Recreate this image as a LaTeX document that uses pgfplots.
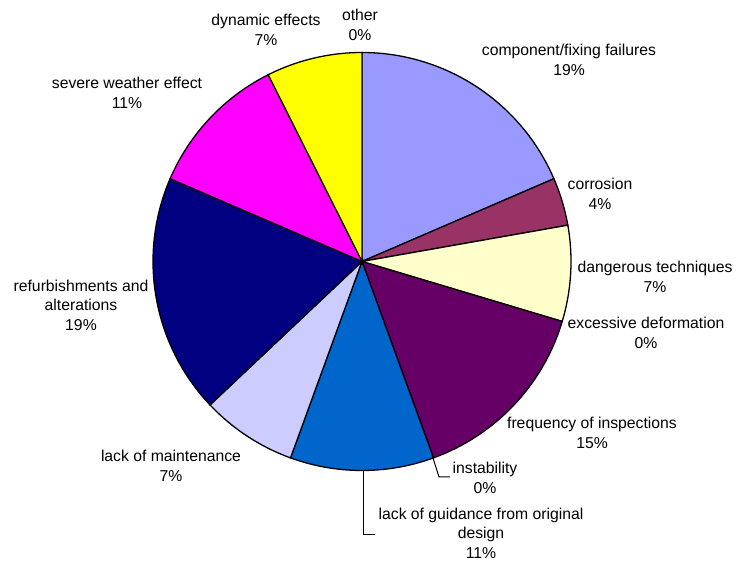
\documentclass[border=0pt]{standalone}
\usepackage{pgfplots}
\pgfplotsset{compat=1.18}
\usepackage{fontspec}
\setmainfont{Liberation Sans}
\definecolor{cComp}{HTML}{9999FF}
\definecolor{cCorr}{HTML}{993366}
\definecolor{cDang}{HTML}{FFFFCC}
\definecolor{cFreq}{HTML}{660066}
\definecolor{cGuid}{HTML}{0066CC}
\definecolor{cMain}{HTML}{CCCCFF}
\definecolor{cRefu}{HTML}{000080}
\definecolor{cWeat}{HTML}{FF00FF}
\definecolor{cDyna}{HTML}{FFFF00}
\tikzset{lbl/.style={font=\fontsize{15.8}{19.5}\selectfont, align=center, inner sep=0pt}}
% #1 = cumulative count before slice, #2 = count of slice, #3 = colour; total 27
\newcommand{\slice}[3]{%
  \addplot[draw=black, line width=1.3bp, fill=#3] coordinates {(362,300.5)}
    -- ({362+209*cos(90-360*#1/27)},{300.5+209*sin(90-360*#1/27)})
    arc[start angle={90-360*#1/27}, delta angle={-360*#2/27}, radius=209bp] -- cycle;
}
\begin{document}
\begin{tikzpicture}
\begin{axis}[
  scale only axis, width=737bp, height=562bp,
  xmin=0, xmax=737, ymin=0, ymax=562,
  hide axis, clip=false,
]
\path (axis cs:0,0) rectangle (axis cs:737,562);
% counts (out of 27): component 5, corrosion 1, dangerous 2, excessive 0,
% frequency 4, instability 0, guidance 3, maintenance 2, refurbishment 5,
% weather 3, dynamic 2, other 0
\slice{0}{5}{cComp}
\slice{5}{1}{cCorr}
\slice{6}{2}{cDang}
\slice{8}{4}{cFreq}
\slice{12}{3}{cGuid}
\slice{15}{2}{cMain}
\slice{17}{5}{cRefu}
\slice{22}{3}{cWeat}
\slice{25}{2}{cDyna}
% leader lines
\draw[line width=1bp] (axis cs:432,107) -- (axis cs:439,85) -- (axis cs:450,85);
\draw[line width=1bp] (axis cs:363,91) -- (axis cs:363,27) -- (axis cs:375,27);
% labels
\node[lbl] at (axis cs:569,502) {component/fixing failures\\19\%};
\node[lbl] at (axis cs:600,368) {corrosion\\4\%};
\node[lbl] at (axis cs:655,285) {dangerous techniques\\7\%};
\node[lbl] at (axis cs:646,229) {excessive deformation\\0\%};
\node[lbl] at (axis cs:592,129) {frequency of inspections\\15\%};
\node[lbl] at (axis cs:485,84) {instability\\0\%};
\node[lbl] at (axis cs:481,29) {lack of guidance from original\\design\\11\%};
\node[lbl] at (axis cs:171,96) {lack of maintenance\\7\%};
\node[lbl] at (axis cs:81,257) {refurbishments and\\alterations\\19\%};
\node[lbl] at (axis cs:127,469) {severe weather effect\\11\%};
\node[lbl] at (axis cs:266,532) {dynamic effects\\7\%};
\node[lbl] at (axis cs:360,537) {other\\0\%};
\end{axis}
\end{tikzpicture}
\end{document}
